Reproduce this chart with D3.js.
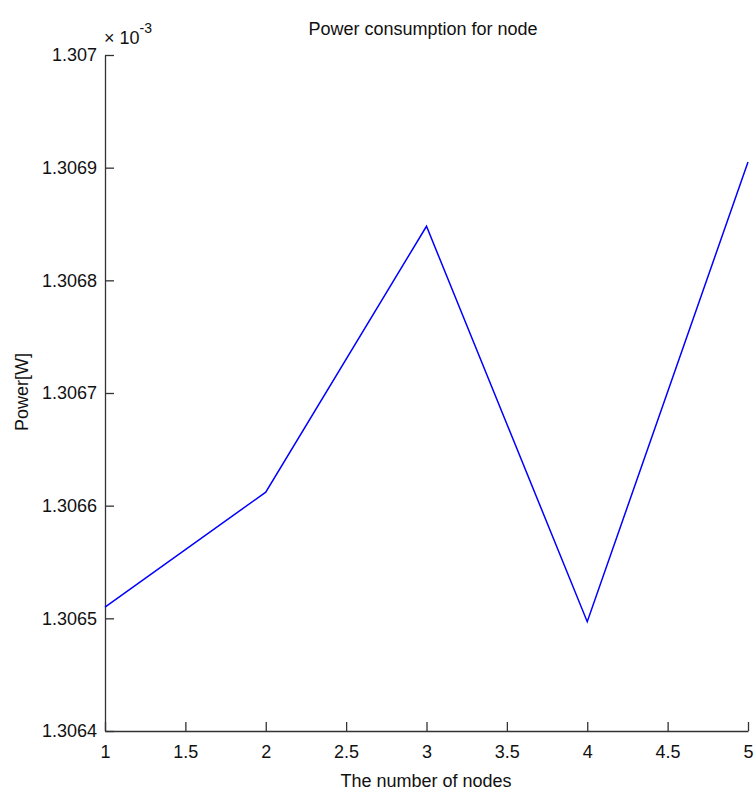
<!DOCTYPE html>
<html><head><meta charset="utf-8">
<script src="https://cdn.jsdelivr.net/npm/d3@7"></script>
<style>
body{margin:0;background:#fff;}
text{font-family:"Liberation Sans","Helvetica",Arial,sans-serif;fill:#111;}
</style></head>
<body>
<svg id="chart" width="756" height="798"></svg>
<script>
// Data (power values in units of 1e-3 W)
const nodes = [1, 2, 3, 4, 5];
const power = [1.30651, 1.306612, 1.306848, 1.306497, 1.306905];
const xTicks = [1, 1.5, 2, 2.5, 3, 3.5, 4, 4.5, 5];
const yTicks = [1.3064, 1.3065, 1.3066, 1.3067, 1.3068, 1.3069, 1.307];

const svg = d3.select("#chart");
const m = {left:105, right:748, top:55, bottom:731};
const x = d3.scaleLinear().domain([1,5]).range([m.left, m.right]);
const y = d3.scaleLinear().domain([1.3064,1.307]).range([m.bottom, m.top]);
const fs = 18;

const xAxis = svg.append("g").attr("transform",`translate(0,${m.bottom})`)
  .call(d3.axisBottom(x).tickValues(xTicks).tickSizeInner(-9).tickSizeOuter(0).tickPadding(14).tickFormat(d3.format("")));
const yAxis = svg.append("g").attr("transform",`translate(${m.left},0)`)
  .call(d3.axisLeft(y).tickValues(yTicks).tickSizeInner(-9).tickSizeOuter(0).tickPadding(8)
    .tickFormat(d=>+d.toFixed(4)+""));
[xAxis,yAxis].forEach(g=>{
  g.selectAll("path").attr("stroke","#333").attr("stroke-width",1.3);
  g.selectAll("line").attr("stroke","#333").attr("stroke-width",1.3);
  g.selectAll("text").attr("font-size",fs).attr("font-family","Liberation Sans").attr("fill","#111");
});
xAxis.selectAll("text").attr("dy","0.71em");

// multiplier
const mult = svg.append("text").attr("x",104).attr("y",44).attr("font-size",fs);
mult.append("tspan").text("\u00d7 10");
mult.append("tspan").attr("dy",-11).attr("font-size",14).text("-3");

svg.append("path").datum(nodes.map((n,i)=>[n,power[i]]))
  .attr("fill","none").attr("stroke","#0000ff").attr("stroke-width",1.5)
  .attr("d", d3.line().x(d=>x(d[0])).y(d=>y(d[1])));

svg.append("text").attr("x",423).attr("y",35).attr("text-anchor","middle").attr("font-size",fs).text("Power consumption for node");
svg.append("text").attr("x",426).attr("y",787).attr("text-anchor","middle").attr("font-size",fs).text("The number of nodes");
svg.append("text").attr("transform","translate(28,392) rotate(-90)").attr("text-anchor","middle").attr("font-size",fs).text("Power[W]");
</script>
</body></html>
